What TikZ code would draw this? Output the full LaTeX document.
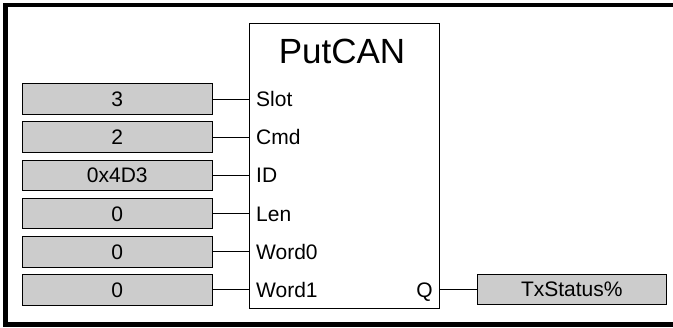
\documentclass[tikz,border=0pt]{standalone}
\usepackage{fontspec}
\setmainfont{Liberation Sans}
\definecolor{valgray}{RGB}{204,204,204}
\begin{document}
\begin{tikzpicture}[x=1pt,y=-1pt,
  valbox/.style={draw=black, line width=0.9pt, fill=valgray, minimum width=189.3pt, minimum height=30.7pt, inner sep=0pt, text height=15pt, text depth=0pt, font=\fontsize{21}{25}\selectfont},
  pinlabel/.style={inner sep=0pt, text height=15pt, text depth=0pt, font=\fontsize{21}{25}\selectfont},
  wire/.style={line width=1pt}]
\useasboundingbox (0,0) rectangle (673,328);
% frame
\draw[line width=4.4pt] (673,5.3) -- (5.3,5.3) -- (5.3,324.5) -- (673,324.5);
% function block
\node[draw, line width=1pt, minimum width=190pt, minimum height=285.6pt, inner sep=0pt, anchor=north west] (blk) at (249.3,22.7) {};
\node[anchor=base, inner sep=0pt, font=\fontsize{35}{40}\selectfont] (title) at (342,63.3) {PutCAN};
% inputs
\node[valbox] (v1) at (117.3,99.3) {3};
\node[valbox] (v2) at (117.3,137.3) {2};
\node[valbox] (v3) at (117.3,175.4) {0x4D3};
\node[valbox] (v4) at (117.3,213.6) {0};
\node[valbox] (v5) at (117.3,251.9) {0};
\node[valbox] (v6) at (117.3,289.8) {0};
\node[pinlabel, anchor=west] (p1) at (256,99.3) {Slot};
\node[pinlabel, anchor=west] (p2) at (256,137.3) {Cmd};
\node[pinlabel, anchor=west] (p3) at (256,175.4) {ID};
\node[pinlabel, anchor=west] (p4) at (256,213.6) {Len};
\node[pinlabel, anchor=west] (p5) at (256,251.9) {Word0};
\node[pinlabel, anchor=west] (p6) at (256,289.8) {Word1};
\foreach \i in {1,...,6} {\draw[wire] (v\i.east) -- (blk.west |- v\i.east);}
% output
\node[pinlabel, anchor=east] (q) at (433,289.6) {Q};
\node[valbox, minimum width=189.7pt] (out) at (571.8,289.4) {TxStatus\%};
\draw[wire] (blk.east |- out.west) -- (out.west);
\end{tikzpicture}
\end{document}
